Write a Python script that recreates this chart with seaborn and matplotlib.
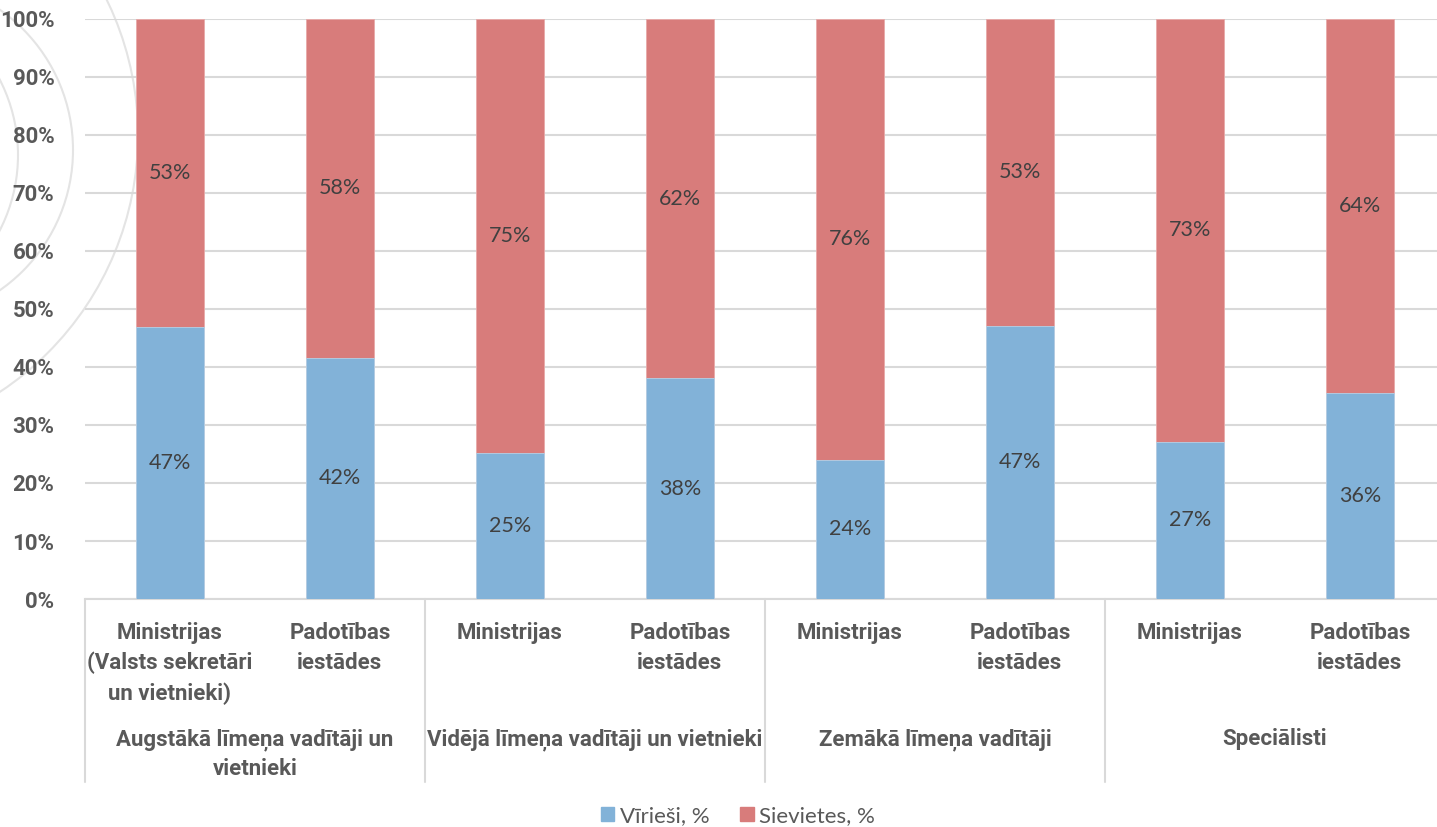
import matplotlib
matplotlib.use("Agg")
import matplotlib.pyplot as plt
import matplotlib.patches as mpatches
import matplotlib.transforms as mtransforms
import seaborn as sns
import pandas as pd

# Data
groups = ["Augstākā līmeņa vadītāji un\nvietnieki",
          "Vidējā līmeņa vadītāji un vietnieki",
          "Zemākā līmeņa vadītāji",
          "Speciālisti"]
bar_labels = ["Ministrijas\n(Valsts sekretāri\nun vietnieki)", "Padotības\niestādes",
              "Ministrijas", "Padotības\niestādes",
              "Ministrijas", "Padotības\niestādes",
              "Ministrijas", "Padotības\niestādes"]
men = [46.9, 41.6, 25.2, 38.1, 24.0, 47.1, 27.1, 35.6]
women = [53.1, 58.4, 74.8, 61.9, 76.0, 52.9, 72.9, 64.4]
series_names = ["Vīrieši, %", "Sievietes, %"]

BLUE = "#82B2D8"
RED = "#D87C7B"
GRAY = "#595959"
GRID = "#D9D9D9"
BOLD_FONT = ["Roboto", "DejaVu Sans"]

df = pd.DataFrame({"pos": range(len(men)), "men": men, "women": women})
df["total"] = df["men"] + df["women"]

sns.set_style("white")
plt.rcParams["font.family"] = ["Lato", "DejaVu Sans"]

W, H = 1437, 827
fig = plt.figure(figsize=(W / 100, H / 100), dpi=100)
ax = fig.add_axes([85 / W, (H - 599) / H, 1360 / W, 580 / H])
ax.patch.set_alpha(0)

# decorative faint circles at the left edge (pixel centre, radius)
for cx, cy, r in [(-147, 155, 165), (-98, 150, 171), (-170, 135, 308)]:
    fig.add_artist(mpatches.Circle((cx, H - cy), r, fill=False, edgecolor="#E4E4E4",
                                   linewidth=1.5, transform=mtransforms.IdentityTransform(),
                                   zorder=-1))

# stacked bars: total (red) then men (blue) on top
sns.barplot(data=df, x="pos", y="total", color=RED, width=0.4, saturation=1,
            edgecolor="#E8A9A8", linewidth=0.6, ax=ax, zorder=3)
sns.barplot(data=df, x="pos", y="men", color=BLUE, width=0.4, saturation=1,
            edgecolor="#B5D1E8", linewidth=0.6, ax=ax, zorder=4)

for i, (m, w) in enumerate(zip(men, women)):
    ax.text(i, m / 2, f"{m:.0f}%", ha="center", va="center", fontsize=15.5,
            color="#404040", zorder=5)
    ax.text(i, m + w / 2, f"{w:.0f}%", ha="center", va="center", fontsize=15.5,
            color="#404040", zorder=5)

ax.set_xlim(-0.5, len(men) - 0.5)
ax.set_ylim(0, 100)
ax.set_yticks(range(0, 101, 10))
ax.set_yticklabels([f"{v}%" for v in range(0, 101, 10)], fontsize=16,
                   fontweight="bold", color=GRAY, family=BOLD_FONT)
ax.tick_params(axis="y", length=0, pad=22)
ax.set_xticks([])
ax.set_xlabel("")
ax.set_ylabel("")
ax.yaxis.grid(True, color=GRID, linewidth=1.5)
ax.set_axisbelow(True)
for s in ["top", "right", "left"]:
    ax.spines[s].set_visible(False)
ax.spines["bottom"].set_color(GRID)
ax.spines["bottom"].set_linewidth(1.5)

# two-level category axis
for i, lab in enumerate(bar_labels):
    ax.annotate(lab, xy=(i, H - 622), xycoords=("data", "figure pixels"),
                ha="center", va="top", fontsize=16, fontweight="bold",
                family=BOLD_FONT, color=GRAY, linespacing=1.45, annotation_clip=False)
for g, lab in enumerate(groups):
    ax.annotate(lab, xy=(2 * g + 0.5, H - 728), xycoords=("data", "figure pixels"),
                ha="center", va="top", fontsize=16, fontweight="bold",
                family=BOLD_FONT, color=GRAY, linespacing=1.45, annotation_clip=False)
for b in [-0.5, 1.5, 3.5, 5.5]:
    ax.plot([b, b], [0, -31.5], color=GRID, linewidth=1.5, clip_on=False, zorder=1)

handles = [mpatches.Patch(color=BLUE, label=series_names[0]),
           mpatches.Patch(color=RED, label=series_names[1])]
fig.legend(handles=handles, loc="center", bbox_to_anchor=(738 / W, (H - 816) / H),
           ncol=2, frameon=False, fontsize=16, labelcolor=GRAY,
           handlelength=0.6, handleheight=0.6, handletextpad=0.25, columnspacing=1.4)

fig.savefig("out.png", dpi=100)
